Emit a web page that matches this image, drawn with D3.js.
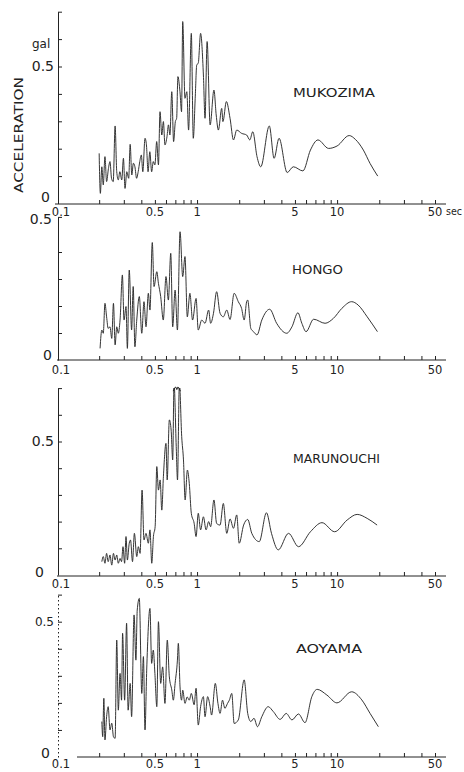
<!DOCTYPE html>
<html>
<head>
<meta charset="utf-8">
<script src="https://cdn.jsdelivr.net/npm/d3@7"></script>
<style>
  html, body { margin: 0; padding: 0; background: #fff; }
  svg { display: block; font-family: "DejaVu Sans", sans-serif; }
</style>
</head>
<body>
<svg id="chart" width="464" height="772"></svg>
<script>
// Period axis: minor tick marks and labelled periods (sec)
const periodTicks = [0.2, 0.3, 0.4, 0.5, 0.6, 0.7, 0.8, 0.9, 1, 2, 3, 4, 5, 6, 7, 8, 9, 10, 20, 30, 40, 50];
const periodLabels = [0.1, 0.5, 1, 5, 10, 50];
// Acceleration axis ticks (gal)
const accelTicks = [0.1, 0.2, 0.3, 0.4, 0.5, 0.6];
const accelLabel = 0.5;

// Station names
const stations = ["MUKOZIMA", "HONGO", "MARUNOUCHI", "AOYAMA"];

// MUKOZIMA response spectrum
const mukozimaPeriods = [0.200,0.204,0.209,0.214,0.220,0.226,0.233,0.239,0.245,0.252,0.260,0.267,0.274,0.281,0.290,0.298,0.306,0.315,0.325,0.333,0.342,0.351,0.360,0.370,0.380,0.390,0.400,0.410,0.425,0.435,0.447,0.460,0.474,0.487,0.500,0.515,0.530,0.544,0.560,0.575,0.590,0.610,0.625,0.640,0.660,0.680,0.700,0.715,0.730,0.755,0.775,0.790,0.820,0.845,0.870,0.910,0.940,0.970,0.995,1.02,1.06,1.11,1.14,1.18,1.24,1.32,1.37,1.42,1.50,1.53,1.62,1.72,1.82,1.92,2.08,2.26,2.38,2.50,2.68,2.85,3.28,3.55,3.85,4.40,4.87,5.70,6.45,7.30,8.70,10.0,12.2,13.5,15.4,17.2,19.5];
const mukozimaAccel = [0.183,0.037,0.134,0.068,0.171,0.080,0.128,0.153,0.092,0.080,0.283,0.116,0.086,0.116,0.086,0.165,0.055,0.116,0.092,0.216,0.104,0.147,0.134,0.092,0.116,0.153,0.177,0.116,0.238,0.214,0.116,0.189,0.116,0.153,0.141,0.226,0.141,0.335,0.250,0.299,0.214,0.244,0.287,0.250,0.408,0.226,0.299,0.311,0.463,0.408,0.335,0.664,0.384,0.408,0.268,0.621,0.238,0.384,0.506,0.512,0.621,0.469,0.311,0.591,0.287,0.414,0.323,0.268,0.347,0.299,0.372,0.311,0.232,0.268,0.256,0.250,0.232,0.262,0.171,0.134,0.283,0.165,0.238,0.113,0.134,0.119,0.195,0.232,0.201,0.210,0.248,0.234,0.195,0.146,0.100];

// HONGO response spectrum
const hongoPeriods = [0.203,0.209,0.214,0.220,0.226,0.232,0.239,0.246,0.253,0.260,0.267,0.274,0.282,0.293,0.301,0.311,0.318,0.328,0.341,0.350,0.360,0.371,0.387,0.403,0.418,0.432,0.449,0.461,0.479,0.493,0.516,0.530,0.550,0.574,0.600,0.624,0.649,0.670,0.697,0.724,0.756,0.790,0.820,0.852,0.889,0.929,0.984,1.02,1.08,1.14,1.21,1.25,1.31,1.38,1.46,1.54,1.63,1.72,1.84,1.97,2.08,2.17,2.26,2.30,2.42,2.53,2.68,2.90,3.30,3.70,4.37,4.76,5.25,5.60,6.00,6.80,8.20,9.40,10.8,12.7,14.1,16.4,19.4];
const hongoAccel = [0.043,0.111,0.099,0.210,0.160,0.117,0.123,0.080,0.210,0.056,0.123,0.099,0.148,0.315,0.148,0.198,0.043,0.333,0.111,0.272,0.049,0.148,0.235,0.099,0.216,0.123,0.247,0.185,0.435,0.272,0.327,0.284,0.235,0.148,0.309,0.222,0.395,0.123,0.259,0.111,0.475,0.309,0.383,0.160,0.247,0.148,0.228,0.111,0.148,0.136,0.185,0.136,0.173,0.253,0.173,0.160,0.185,0.150,0.247,0.216,0.191,0.148,0.216,0.222,0.117,0.105,0.093,0.148,0.188,0.136,0.099,0.123,0.175,0.136,0.105,0.151,0.136,0.154,0.191,0.216,0.204,0.160,0.105];

// MARUNOUCHI response spectrum (two peaks run off the top of the scale)
const marunouchiPeriods = [0.209,0.214,0.220,0.226,0.232,0.239,0.246,0.253,0.260,0.267,0.274,0.282,0.289,0.296,0.304,0.311,0.318,0.328,0.335,0.346,0.357,0.371,0.381,0.392,0.405,0.418,0.432,0.449,0.461,0.475,0.488,0.502,0.516,0.530,0.545,0.560,0.575,0.600,0.612,0.634,0.653,0.670,0.685,0.710,0.725,0.748,0.777,0.800,0.822,0.853,0.880,0.910,0.953,0.984,1.02,1.06,1.11,1.16,1.21,1.25,1.32,1.38,1.46,1.54,1.63,1.72,1.82,1.92,2.00,2.15,2.30,2.46,2.78,3.13,3.40,3.80,4.50,5.30,6.45,7.80,9.60,11.8,13.9,16.4,19.3];
const marunouchiAccel = [0.050,0.069,0.044,0.081,0.050,0.075,0.037,0.081,0.056,0.075,0.044,0.062,0.050,0.106,0.044,0.144,0.056,0.119,0.131,0.050,0.156,0.069,0.106,0.081,0.318,0.131,0.156,0.119,0.169,0.044,0.144,0.181,0.406,0.318,0.356,0.243,0.368,0.493,0.356,0.581,0.543,0.431,0.720,0.481,0.356,0.720,0.518,0.431,0.281,0.393,0.343,0.231,0.194,0.144,0.231,0.169,0.218,0.169,0.200,0.181,0.281,0.193,0.187,0.268,0.156,0.210,0.175,0.225,0.119,0.187,0.208,0.156,0.125,0.233,0.156,0.094,0.156,0.106,0.162,0.196,0.162,0.206,0.227,0.212,0.187];

// AOYAMA response spectrum
const aoyamaPeriods = [0.209,0.212,0.216,0.220,0.226,0.232,0.239,0.246,0.253,0.260,0.267,0.274,0.282,0.289,0.294,0.304,0.314,0.322,0.333,0.341,0.355,0.366,0.374,0.387,0.403,0.414,0.425,0.437,0.461,0.474,0.487,0.500,0.516,0.530,0.550,0.568,0.590,0.613,0.634,0.660,0.677,0.697,0.724,0.735,0.756,0.775,0.790,0.820,0.850,0.880,0.910,0.953,0.984,1.02,1.06,1.11,1.14,1.19,1.24,1.27,1.35,1.41,1.46,1.52,1.58,1.65,1.70,1.77,1.84,1.97,2.17,2.30,2.42,2.55,2.70,2.90,3.22,3.50,3.92,4.33,4.76,5.30,5.90,6.60,7.20,8.45,9.97,12.7,15.0,17.2,19.7];
const aoyamaAccel = [0.131,0.075,0.217,0.063,0.149,0.186,0.100,0.125,0.075,0.069,0.432,0.173,0.309,0.210,0.457,0.210,0.494,0.173,0.272,0.149,0.525,0.358,0.543,0.586,0.235,0.371,0.100,0.321,0.549,0.346,0.395,0.309,0.186,0.500,0.272,0.333,0.198,0.432,0.296,0.248,0.210,0.272,0.358,0.420,0.259,0.210,0.247,0.198,0.222,0.210,0.235,0.193,0.254,0.118,0.186,0.223,0.149,0.223,0.186,0.155,0.272,0.198,0.161,0.210,0.180,0.198,0.210,0.235,0.124,0.137,0.285,0.161,0.131,0.143,0.112,0.149,0.186,0.168,0.139,0.161,0.137,0.159,0.127,0.223,0.250,0.229,0.200,0.241,0.211,0.161,0.112];

const series = [
  { periods: mukozimaPeriods,   accel: mukozimaAccel },
  { periods: hongoPeriods,      accel: hongoAccel },
  { periods: marunouchiPeriods, accel: marunouchiAccel },
  { periods: aoyamaPeriods,     accel: aoyamaAccel }
];

// Panel layout: baseline position, pixels per gal, axis top value, text placement
const layout = [
  { zeroY: 203.5, ppu: 274,   top: 0.70, xAxisY: 204, xAxisStart: 55, labPad: 3, yLabSize: 14, yLab05dy: 0,  zeroLab: [50, 197], nameX: 293, nameY: 97,  nameLen: 82, axisDash: null },
  { zeroY: 360,   ppu: 270,   top: 0.53, xAxisY: 360, xAxisStart: 57, labPad: 5, yLabSize: 14, yLab05dy: -6, zeroLab: [52, 355], nameX: 292, nameY: 274, nameLen: 51, axisDash: null },
  { zeroY: 575,   ppu: 267,   top: 0.70, xAxisY: 576, xAxisStart: 57, labPad: 3, yLabSize: 14, yLab05dy: 0,  zeroLab: [44, 572], nameX: 293, nameY: 463, nameLen: 87, axisDash: null },
  { zeroY: 757,   ppu: 270.6, top: 0.60, xAxisY: 757, xAxisStart: 77, labPad: 2, yLabSize: 12, yLab05dy: 0,  zeroLab: [50, 753], nameX: 296, nameY: 653, nameLen: 66, axisDash: "1.5,2.5" }
];

const ink = "#222";
const svg = d3.select("#chart");
const x = d3.scaleLog().domain([0.1, 50]).range([57, 435]);
const yAxisX = 58;

layout.forEach((L, i) => {
  const y = d3.scaleLinear().domain([0, L.top]).range([L.zeroY, L.zeroY - L.ppu * L.top]);
  const g = svg.append("g");

  // clip region: the curve stops at the top of the scale
  const clipId = "clip" + i;
  svg.append("clipPath").attr("id", clipId)
    .append("rect").attr("x", 0).attr("width", 464)
    .attr("y", y(L.top)).attr("height", y(0) - y(L.top) + 2);

  // period axis line and tick marks (ticks point upward)
  g.append("line")
    .attr("x1", L.xAxisStart).attr("x2", 446)
    .attr("y1", L.xAxisY).attr("y2", L.xAxisY)
    .attr("stroke", ink).attr("stroke-width", 1);
  const xAxis = d3.axisBottom(x).tickValues(periodTicks).tickSize(-4).tickSizeOuter(0).tickFormat("");
  const xg = g.append("g").attr("transform", `translate(0,${L.xAxisY})`).call(xAxis);
  xg.select(".domain").remove();
  xg.selectAll(".tick line").attr("stroke", ink).attr("stroke-width", 1);

  g.selectAll(".plab").data(periodLabels).join("text")
    .attr("x", d => x(d) + (d === 0.1 ? 4 : 0))
    .attr("y", L.xAxisY + L.labPad)
    .attr("dy", "0.8em")
    .attr("text-anchor", "middle")
    .attr("font-size", 11.5)
    .attr("fill", ink)
    .text(d => String(d));
  if (i === 0) {
    g.append("text").attr("x", x(50) + 11).attr("y", L.xAxisY + L.labPad)
      .attr("dy", "0.8em").attr("font-size", 10.5).attr("fill", ink)
      .attr("textLength", 16).attr("lengthAdjust", "spacingAndGlyphs").text("sec");
  }

  // acceleration axis (ticks point inward), topped by a short bracket
  const yTickVals = accelTicks.filter(t => t < L.top - 0.05).filter(t => !(i === 1 && t === 0.5));
  const yAxis = d3.axisLeft(y).tickValues(yTickVals.concat([L.top])).tickSize(-4).tickSizeOuter(0).tickFormat("");
  const yg = g.append("g").attr("transform", `translate(${yAxisX},0)`).call(yAxis);
  yg.select(".domain").attr("stroke", ink).attr("stroke-width", 1)
    .attr("stroke-dasharray", L.axisDash);
  yg.selectAll(".tick line").attr("stroke", ink).attr("stroke-width", 1);

  g.append("text").attr("x", i === 1 ? 52 : yAxisX - 4).attr("y", y(accelLabel) + L.yLab05dy)
    .attr("dy", "0.35em").attr("text-anchor", "end")
    .attr("font-size", L.yLabSize).attr("fill", ink).text(String(accelLabel));
  g.append("text").attr("x", L.zeroLab[0]).attr("y", L.zeroLab[1])
    .attr("dy", "0.35em").attr("text-anchor", "end")
    .attr("font-size", 14).attr("fill", ink).text("0");

  // spectrum curve
  const pts = series[i].periods.map((t, k) => ({ t, v: series[i].accel[k] }));
  const line = d3.line().x(d => x(d.t)).y(d => y(d.v)).curve(d3.curveMonotoneX);
  g.append("path").datum(pts)
    .attr("clip-path", `url(#${clipId})`)
    .attr("d", line)
    .attr("fill", "none")
    .attr("stroke", "#2a2a2a")
    .attr("stroke-width", 0.95)
    .attr("stroke-linejoin", "round");

  // station name
  g.append("text").attr("x", L.nameX).attr("y", L.nameY)
    .attr("font-size", 13).attr("fill", ink)
    .attr("textLength", L.nameLen).attr("lengthAdjust", "spacingAndGlyphs")
    .text(stations[i]);

  // off-scale marker over the clipped MARUNOUCHI peak
  if (i === 2) {
    const xl = x(0.675), xr = x(0.76), xm = x(0.717), yt = y(L.top);
    g.append("path")
      .attr("d", `M${xl},${yt + 3} Q${xl + 2},${yt - 2} ${xm - 1},${yt - 1} L${xm},${yt + 1.5} L${xm + 1},${yt - 1} Q${xr - 2},${yt - 2} ${xr},${yt + 3}`)
      .attr("fill", "none").attr("stroke", ink).attr("stroke-width", 1);
  }
});

// shared axis titles
svg.append("text")
  .attr("transform", "translate(23,135) rotate(-90)")
  .attr("text-anchor", "middle")
  .attr("font-size", 13).attr("fill", ink)
  .attr("textLength", 116).attr("lengthAdjust", "spacingAndGlyphs")
  .text("ACCELERATION");
svg.append("text").attr("x", 32).attr("y", 48)
  .attr("font-size", 12).attr("fill", ink).text("gal");
</script>
</body>
</html>
